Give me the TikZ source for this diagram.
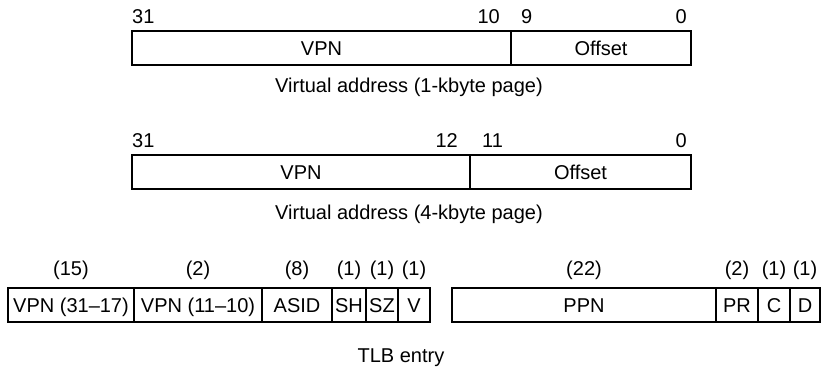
\documentclass[tikz,border=0pt]{standalone}
\usepackage{fontspec}
\setmainfont{Liberation Sans}
\usetikzlibrary{positioning}

\begin{document}
\begin{tikzpicture}[x=1pt, y=1pt,
            field/.style={draw, line width=1.1pt, minimum height=34pt, inner sep=0pt, outer sep=0pt,
                text height=14.3pt, text depth=0pt, font=\fontsize{20}{24}\selectfont},
            bitno/.style={inner sep=0pt, font=\fontsize{20}{24}\selectfont},
            caption/.style={inner sep=0pt, font=\fontsize{20}{24}\selectfont}]

            \useasboundingbox (0,0) rectangle (821,367);

            % virtual address, 1-kbyte page
            \node[field, minimum width=379pt, anchor=north west] (vpnA) at (132,336) {VPN};
            \node[field, minimum width=180pt, right=0pt of vpnA] (offA) {Offset};

            \node[bitno, above right=7pt and 0pt of vpnA.north west] (nA31) {31};
            \node[bitno, above left=7pt and 11pt of vpnA.north east] (nA10) {10};
            \node[bitno, above right=7pt and 10pt of offA.north west] (nA9) {9};
            \node[bitno, above left=7pt and 4pt of offA.north east] (nA0) {0};

            \node[caption, anchor=north] (capA) at (409,289) {Virtual address (1-kbyte page)};

            % virtual address, 4-kbyte page
            \node[field, minimum width=338pt, anchor=north west] (vpnB) at (132,212) {VPN};
            \node[field, minimum width=221pt, right=0pt of vpnB] (offB) {Offset};

            \node[bitno, above right=7pt and 0pt of vpnB.north west] (nB31) {31};
            \node[bitno, above left=7pt and 12pt of vpnB.north east] (nB12) {12};
            \node[bitno, above right=7pt and 12pt of offB.north west] (nB11) {11};
            \node[bitno, above left=7pt and 4pt of offB.north east] (nB0) {0};

            \node[caption, anchor=north] (capB) at (409,162) {Virtual address (4-kbyte page)};

            % TLB entry, left word
            \node[field, minimum width=126pt, anchor=north west] (tlbvpnhi) at (8,79) {VPN (31--17)};
            \node[field, minimum width=128pt, right=0pt of tlbvpnhi] (tlbvpnlo) {VPN (11--10)};
            \node[field, minimum width=70pt, right=0pt of tlbvpnlo] (tlbasid) {ASID};
            \node[field, minimum width=34pt, right=0pt of tlbasid] (tlbsh) {SH};
            \node[field, minimum width=32pt, right=0pt of tlbsh] (tlbsz) {SZ};
            \node[field, minimum width=32pt, right=0pt of tlbsz] (tlbv) {V};

            % TLB entry, right word
            \node[field, minimum width=264pt, anchor=north west] (tlbppn) at (452,79) {PPN};
            \node[field, minimum width=42pt, right=0pt of tlbppn] (tlbpr) {PR};
            \node[field, minimum width=32pt, right=0pt of tlbpr] (tlbc) {C};
            \node[field, minimum width=30pt, right=0pt of tlbc] (tlbd) {D};

            % field widths
            \node[bitno, above=8pt of tlbvpnhi] (wvpnhi) {(15)};
            \node[bitno, above=8pt of tlbvpnlo] (wvpnlo) {(2)};
            \node[bitno, above=8pt of tlbasid] (wasid) {(8)};
            \node[bitno, above=8pt of tlbsh] (wsh) {(1)};
            \node[bitno, above=8pt of tlbsz] (wsz) {(1)};
            \node[bitno, above=8pt of tlbv] (wv) {(1)};
            \node[bitno, above=8pt of tlbppn] (wppn) {(22)};
            \node[bitno, above=8pt of tlbpr] (wpr) {(2)};
            \node[bitno, above=8pt of tlbc] (wc) {(1)};
            \node[bitno, above=8pt of tlbd] (wd) {(1)};

            \node[caption, anchor=north] (captlb) at (401,18) {TLB entry};
        \end{tikzpicture}
\end{document}
